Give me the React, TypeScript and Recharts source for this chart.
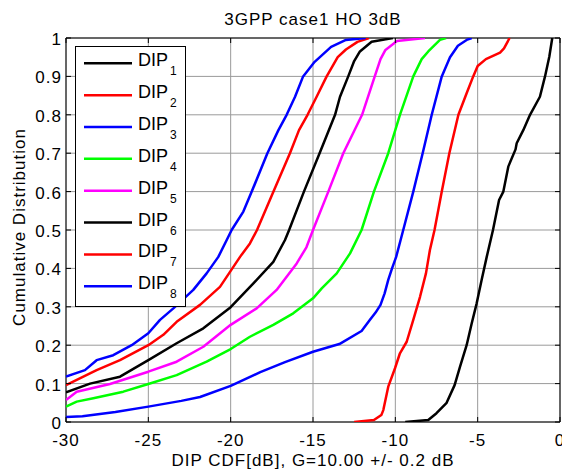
import React from 'react';
import { LineChart, Line, XAxis, YAxis, CartesianGrid, ReferenceArea } from 'recharts';

const chartTitle = '3GPP case1 HO 3dB';
const xLabel = 'DIP CDF[dB], G=10.00 +/- 0.2 dB';
const yLabel = 'Cumulative Distribution';

const xTicks = [-30, -25, -20, -15, -10, -5, 0];
const yTicks = [0, 0.1, 0.2, 0.3, 0.4, 0.5, 0.6, 0.7, 0.8, 0.9, 1];

const seriesNames = ['DIP', 'DIP', 'DIP', 'DIP', 'DIP', 'DIP', 'DIP', 'DIP'];
const seriesSubs = ['1', '2', '3', '4', '5', '6', '7', '8'];
const seriesColors = ['#000000', '#ff0000', '#0000ff', '#00ff00', '#ff00ff', '#000000', '#ff0000', '#0000ff'];

// [x (dB), cumulative probability]
const dip1: [number, number][] = [
  [-9.4, 0], [-8.0, 0.005], [-7.5, 0.023], [-6.9, 0.049], [-6.4, 0.096], [-6.07, 0.144],
  [-5.67, 0.2], [-5.36, 0.257], [-5.06, 0.309], [-4.76, 0.37], [-4.45, 0.43], [-4.07, 0.5],
  [-3.7, 0.578], [-3.44, 0.6], [-3.14, 0.665], [-2.7, 0.71], [-2.63, 0.726], [-2.23, 0.76],
  [-1.82, 0.8], [-1.22, 0.847], [-0.91, 0.9], [-0.65, 0.951], [-0.47, 1.0],
];
const dip2: [number, number][] = [
  [-12.5, 0], [-11.3, 0.005], [-10.85, 0.018], [-10.73, 0.031], [-10.43, 0.092], [-10.02, 0.14],
  [-9.72, 0.179], [-9.31, 0.209], [-8.91, 0.266], [-8.5, 0.326], [-8.14, 0.387], [-7.9, 0.448],
  [-7.62, 0.5], [-7.18, 0.6], [-6.72, 0.7], [-6.17, 0.8], [-5.67, 0.856], [-5.27, 0.9],
  [-5.0, 0.927], [-4.5, 0.945], [-3.64, 0.962], [-3.4, 0.973], [-3.06, 1.0],
];
const dip3: [number, number][] = [
  [-30, 0.013], [-29, 0.015], [-27, 0.026], [-25, 0.04], [-23, 0.055], [-21.86, 0.065],
  [-20, 0.094], [-18.2, 0.13], [-16.7, 0.156], [-15, 0.183], [-13.4, 0.203], [-12.05, 0.237],
  [-11.54, 0.266], [-11.2, 0.285], [-10.9, 0.305], [-10.65, 0.335], [-10.43, 0.37], [-10.2, 0.4],
  [-9.95, 0.43], [-9.52, 0.5], [-8.91, 0.6], [-8.34, 0.7], [-7.79, 0.8], [-7.18, 0.9],
  [-6.68, 0.95], [-6.2, 0.98], [-5.67, 0.995], [-5.36, 1.0],
];
const dip4: [number, number][] = [
  [-30, 0.04], [-29.35, 0.053], [-28.34, 0.062], [-26.52, 0.079], [-25, 0.099], [-23.28, 0.122],
  [-21.46, 0.157], [-20, 0.19], [-18.83, 0.222], [-17.41, 0.253], [-16.2, 0.283], [-15.0, 0.322],
  [-14.47, 0.348], [-13.56, 0.387], [-12.75, 0.439], [-12.05, 0.5], [-11.3, 0.6], [-10.43, 0.7],
  [-9.72, 0.8], [-8.91, 0.9], [-8.4, 0.945], [-8.0, 0.965], [-7.29, 0.995], [-6.92, 1.0],
];
const dip5: [number, number][] = [
  [-30, 0.057], [-29.35, 0.079], [-27.33, 0.099], [-25, 0.131], [-23.28, 0.157], [-21.66, 0.196],
  [-20, 0.253], [-18.42, 0.296], [-17.21, 0.344], [-15.99, 0.413], [-15.4, 0.455], [-15.0, 0.5],
  [-14.07, 0.6], [-13.16, 0.7], [-12.02, 0.8], [-11.25, 0.9], [-10.9, 0.945], [-10.6, 0.969],
  [-9.9, 0.992], [-8.2, 1.0],
];
const dip6: [number, number][] = [
  [-30, 0.077], [-28.54, 0.1], [-26.72, 0.118], [-25, 0.161], [-23.28, 0.205], [-21.66, 0.244],
  [-20, 0.299], [-18.62, 0.361], [-17.41, 0.417], [-16.7, 0.474], [-16.45, 0.5], [-15.55, 0.6],
  [-14.6, 0.7], [-13.66, 0.8], [-13.36, 0.847], [-12.86, 0.9], [-12.5, 0.94], [-12.15, 0.965],
  [-11.44, 0.99], [-10.15, 1.0],
];
const dip7: [number, number][] = [
  [-30, 0.096], [-28.14, 0.135], [-26.72, 0.161], [-25, 0.2], [-24.09, 0.227], [-23.28, 0.261],
  [-21.86, 0.305], [-20.65, 0.352], [-20.04, 0.391], [-19.43, 0.43], [-18.83, 0.465], [-18.4, 0.5],
  [-17.4, 0.6], [-16.4, 0.7], [-15.85, 0.76], [-15.33, 0.8], [-14.78, 0.847], [-14.17, 0.9],
  [-13.5, 0.95], [-13.0, 0.97], [-12.3, 0.99], [-11.6, 1.0],
];
const dip8: [number, number][] = [
  [-30, 0.118], [-28.85, 0.135], [-28.14, 0.161], [-27.13, 0.174], [-26.01, 0.2], [-25, 0.231],
  [-24.29, 0.266], [-23.48, 0.296], [-22.27, 0.344], [-21.46, 0.387], [-20.75, 0.43], [-20.24, 0.474],
  [-19.94, 0.5], [-19.23, 0.548], [-18.72, 0.6], [-17.77, 0.7], [-17.1, 0.76], [-16.6, 0.8],
  [-16.09, 0.847], [-15.6, 0.9], [-14.9, 0.938], [-13.9, 0.977], [-13.0, 0.995], [-11.8, 1.0],
];

const allSeries = [dip1, dip2, dip3, dip4, dip5, dip6, dip7, dip8];

const W = 562;
const H = 467;
const MARGIN = { top: 30, right: 10, bottom: 0, left: 0 };
const Y_AXIS_W = 58;
const X_AXIS_H = 53;
const PLOT_LEFT = MARGIN.left + Y_AXIS_W;
const PLOT_RIGHT = W - MARGIN.right;
const PLOT_TOP = MARGIN.top;
const PLOT_BOTTOM = H - MARGIN.bottom - X_AXIS_H;
const TICK_LEN = 5;
const FONT = '"Liberation Sans", Arial, Helvetica, sans-serif';
const TICK_FS = 17;
const LS = 1;
const LINE_W = 2.5;

const XTick = (props: any) => {
  const { x, payload } = props;
  return (
    <g>
      <line x1={x} x2={x} y1={PLOT_BOTTOM} y2={PLOT_BOTTOM - TICK_LEN} stroke="#000" strokeWidth={1} />
      <line x1={x} x2={x} y1={PLOT_TOP} y2={PLOT_TOP + TICK_LEN} stroke="#000" strokeWidth={1} />
      <text x={x} y={PLOT_BOTTOM + 24} textAnchor="middle" fontFamily={FONT} fontSize={TICK_FS} letterSpacing={LS} fill="#000">
        {String(payload.value)}
      </text>
    </g>
  );
};

const YTick = (props: any) => {
  const { y, payload } = props;
  return (
    <g>
      <line x1={PLOT_LEFT} x2={PLOT_LEFT + TICK_LEN} y1={y} y2={y} stroke="#000" strokeWidth={1} />
      <line x1={PLOT_RIGHT} x2={PLOT_RIGHT - TICK_LEN} y1={y} y2={y} stroke="#000" strokeWidth={1} />
      <text x={PLOT_LEFT - 4} y={y + 1} dy="0.35em" textAnchor="end" fontFamily={FONT} fontSize={TICK_FS} letterSpacing={LS} fill="#000">
        {String(payload.value)}
      </text>
    </g>
  );
};

const LEG_X = 67;
const LEG_Y = 38;
const LEG_W = 110;
const LEG_H = 260;
const LEG_ROW0 = 55.3;
const LEG_STEP = 31.85;

export default function App() {
  return (
    <div style={{ position: 'relative', width: W, height: H }}>
      <LineChart width={W} height={H} margin={MARGIN}>
        <CartesianGrid stroke="#9a9a9a" strokeWidth={1} />
        <XAxis
          dataKey="x"
          type="number"
          domain={[-30, 0]}
          ticks={xTicks}
          interval={0}
          allowDataOverflow
          height={X_AXIS_H}
          tickSize={0}
          tickMargin={0}
          tickLine={false}
          axisLine={false}
          tick={(p: any) => <XTick {...p} />}
        />
        <YAxis
          dataKey="y"
          type="number"
          domain={[0, 1]}
          ticks={yTicks}
          interval={0}
          allowDataOverflow
          width={Y_AXIS_W}
          tickSize={0}
          tickMargin={4}
          tickLine={false}
          axisLine={false}
          tick={(p: any) => <YTick {...p} />}
        />
        <ReferenceArea x1={-30} x2={0} y1={0} y2={1} fill="none" fillOpacity={0} stroke="#000" strokeWidth={1} />
        {allSeries.map((s, i) => (
          <Line
            key={i}
            data={s.map(([x, y]) => ({ x, y }))}
            dataKey="y"
            type="linear"
            stroke={seriesColors[i]}
            strokeWidth={LINE_W}
            strokeLinejoin="round"
            dot={false}
            activeDot={false}
            isAnimationActive={false}
          />
        ))}
      </LineChart>
      <svg width={W} height={H} style={{ position: 'absolute', left: 0, top: 0, pointerEvents: 'none' }}>
        <text x={(PLOT_LEFT + PLOT_RIGHT) / 2} y={17} textAnchor="middle" fontFamily={FONT} fontSize={17} letterSpacing={LS} fill="#000">
          {chartTitle}
        </text>
        <text x={(PLOT_LEFT + PLOT_RIGHT) / 2} y={458} textAnchor="middle" fontFamily={FONT} fontSize={17} letterSpacing={LS} fill="#000">
          {xLabel}
        </text>
        <text
          x={0}
          y={0}
          transform={`translate(17, ${(PLOT_TOP + PLOT_BOTTOM) / 2 - 3}) rotate(-90)`}
          textAnchor="middle"
          fontFamily={FONT}
          fontSize={17}
          letterSpacing={LS}
          fill="#000"
        >
          {yLabel}
        </text>
        <rect x={LEG_X + 0.5} y={LEG_Y + 0.5} width={LEG_W} height={LEG_H} fill="#fff" stroke="#000" strokeWidth={1} />
        {seriesNames.map((n, i) => {
          const ly = LEG_ROW0 + LEG_STEP * i;
          return (
            <g key={i}>
              <line x1={76} x2={124} y1={ly} y2={ly} stroke={seriesColors[i]} strokeWidth={LINE_W} />
              <text x={130} y={ly + 3} fontFamily={FONT} fontSize={18} fill="#000">
                {n}
                <tspan dx={2} dy={9} fontSize={12}>{seriesSubs[i]}</tspan>
              </text>
            </g>
          );
        })}
      </svg>
    </div>
  );
}
